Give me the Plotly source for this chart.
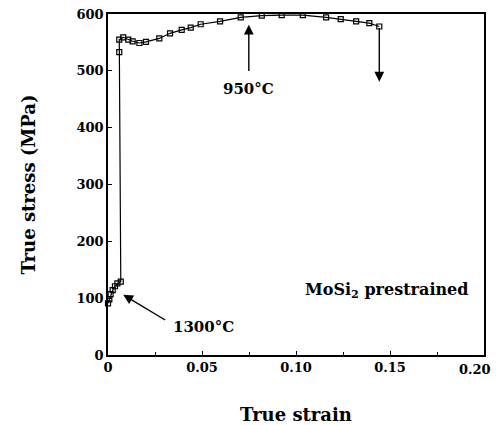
import plotly.graph_objects as go

strain = [0.0, 0.0007, 0.0014, 0.0025, 0.0037, 0.005, 0.0068,
          0.006, 0.006, 0.0081, 0.0108, 0.0131, 0.0167, 0.0202, 0.0273, 0.033,
          0.0392, 0.044, 0.0493, 0.0596, 0.0706, 0.0818, 0.0924, 0.1036,
          0.116, 0.1238, 0.132, 0.139, 0.1443]
stress = [91, 98, 107, 114, 121, 126, 129,
          533, 555, 559, 555, 552, 549, 551, 557, 566,
          572, 576, 582, 587, 594, 597, 598, 598,
          594, 591, 587, 584, 578]

x_ticks = [0, 0.05, 0.10, 0.15, 0.20]
x_tick_labels = ["0", "0.05", "0.10", "0.15", "0.20"]
y_ticks = [0, 100, 200, 300, 400, 500, 600]

FONT = "DejaVu Serif"
TICKFONT = dict(family=FONT, size=13, color="black", weight="bold")

fig = go.Figure()
fig.add_trace(go.Scatter(
    x=strain, y=stress, mode="lines+markers",
    line=dict(color="black", width=1.2),
    marker=dict(symbol="square-open", size=5, color="black", line=dict(width=1.2)),
    showlegend=False, cliponaxis=False, hoverinfo="skip",
))

# last x tick label drawn as annotation so it stays inside the figure edge
fig.update_xaxes(
    range=[0, 0.20], tickvals=x_ticks, ticktext=x_tick_labels[:-1] + [""],
    ticks="inside", ticklen=4, tickcolor="black", tickwidth=1,
    minor=dict(ticks="inside", dtick=0.025, ticklen=3, tickcolor="black"),
    showline=True, linecolor="black", linewidth=1.5, mirror=True,
    showgrid=False, zeroline=False, automargin=False,
    tickfont=TICKFONT,
    title=dict(text="True strain", font=dict(family=FONT, size=18, color="black", weight="bold"), standoff=34),
)
fig.update_yaxes(
    range=[0, 600], tickvals=y_ticks,
    ticks="inside", ticklen=4, tickcolor="black", tickwidth=1,
    showline=True, linecolor="black", linewidth=1.5, mirror=True,
    showgrid=False, zeroline=False, automargin=False,
    tickfont=TICKFONT,
    title=dict(text="True stress (MPa)", font=dict(family=FONT, size=18, color="black", weight="bold"), standoff=36),
)

fig.add_annotation(x=x_ticks[-1], y=0, xref="x", yref="y", text=x_tick_labels[-1], showarrow=False,
                   xanchor="right", yanchor="top", xshift=9, yshift=-5, font=TICKFONT)

fig.add_annotation(x=0.0749, y=581, ax=0.0749, ay=497, xref="x", yref="y", axref="x", ayref="y",
                   text="", showarrow=True, arrowhead=2, arrowsize=1.4, arrowwidth=1.4, arrowcolor="black")
fig.add_annotation(x=0.0749, y=468, text="950°C", showarrow=False,
                   font=dict(family=FONT, size=15, color="black", weight="bold"))
fig.add_annotation(x=0.1443, y=481, ax=0.1443, ay=578, xref="x", yref="y", axref="x", ayref="y",
                   text="", showarrow=True, arrowhead=2, arrowsize=1.4, arrowwidth=1.4, arrowcolor="black")
fig.add_annotation(x=0.0081, y=106, ax=0.0312, ay=60, xref="x", yref="y", axref="x", ayref="y",
                   text="", showarrow=True, arrowhead=2, arrowsize=1.4, arrowwidth=1.4, arrowcolor="black")
fig.add_annotation(x=0.051, y=49, text="1300°C", showarrow=False,
                   font=dict(family=FONT, size=15, color="black", weight="bold"))
fig.add_annotation(x=0.148, y=114, text="MoSi<sub>2</sub> prestrained", showarrow=False,
                   font=dict(family=FONT, size=16, color="black", weight="bold"))

fig.update_layout(
    width=496, height=425,
    margin=dict(l=108, r=12, t=14, b=70),
    paper_bgcolor="white", plot_bgcolor="white",
    hovermode=False,
)

fig.write_html("out.html", config={"displayModeBar": False},
               post_script="document.body.style.margin='0';")
